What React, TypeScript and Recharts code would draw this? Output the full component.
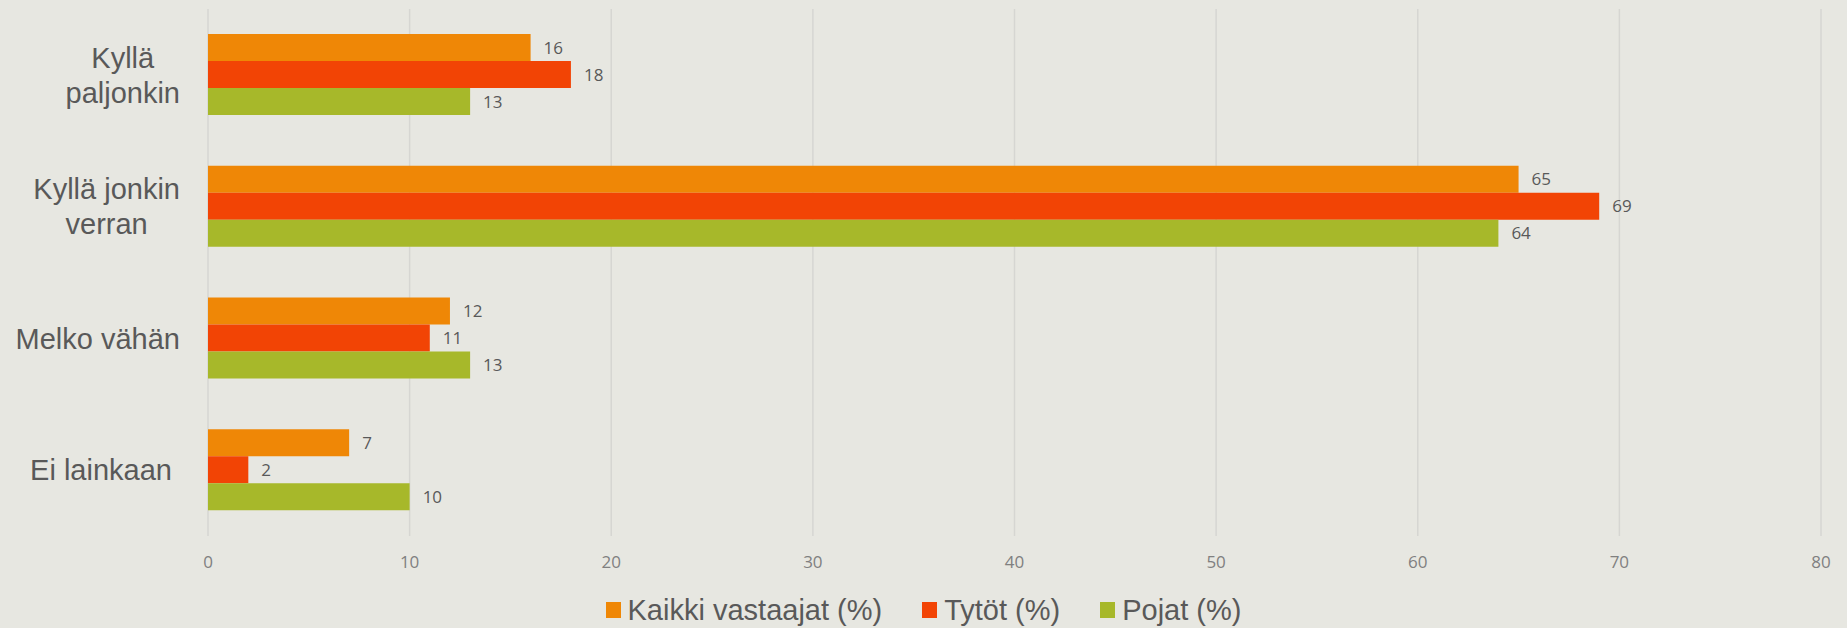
import { BarChart, Bar, XAxis, YAxis, CartesianGrid, Legend, LabelList } from 'recharts';

const categories = ['Kyllä\npaljonkin', 'Kyllä jonkin\nverran', 'Melko vähän', 'Ei lainkaan '];
const kaikki = [16, 65, 12, 7];
const tytot = [18, 69, 11, 2];
const pojat = [13, 64, 13, 10];
const xTicks = [0, 10, 20, 30, 40, 50, 60, 70, 80];

const series = [
  { key: 'kaikki', name: 'Kaikki vastaajat (%)', color: '#EF8706' },
  { key: 'tytot', name: 'Tytöt (%)', color: '#F24405' },
  { key: 'pojat', name: 'Pojat (%)', color: '#A7B82A' },
];

const data = categories.map((name, i) => ({
  name,
  kaikki: kaikki[i],
  tytot: tytot[i],
  pojat: pojat[i],
}));

const labelFont = '"Liberation Sans", Arial, sans-serif';

function textWidth(s: string, font: string) {
  const ctx = document.createElement('canvas').getContext('2d');
  if (!ctx) return s.length * 14;
  ctx.font = font;
  return ctx.measureText(s).width;
}

// multi-line category labels: lines centred on each other, block right-aligned
function CategoryTick(props: any) {
  const { x, y, payload } = props;
  const lines: string[] = String(payload.value).split('\n');
  const maxW = Math.max(...lines.map((l) => textWidth(l, `29px ${labelFont}`)));
  const cx = x - maxW / 2;
  return (
    <g>
      {lines.map((l, i) => (
        <text
          key={i}
          x={cx}
          y={y + (i - (lines.length - 1) / 2) * 35}
          dy="0.35em"
          textAnchor="middle"
          fill="#595959"
          fontSize={29}
          fontFamily={labelFont}
          style={{ whiteSpace: 'pre' }}
        >
          {l}
        </text>
      ))}
    </g>
  );
}

function LegendContent() {
  return (
    <div style={{ display: 'flex', justifyContent: 'center', alignItems: 'center', height: 36, gap: 40 }}>
      {series.map((s) => (
        <div key={s.key} style={{ display: 'flex', alignItems: 'center', gap: 7 }}>
          <span style={{ width: 15, height: 16, background: s.color, display: 'inline-block' }} />
          <span style={{ fontFamily: labelFont, fontSize: 29, color: '#595959', lineHeight: '36px' }}>{s.name}</span>
        </div>
      ))}
    </div>
  );
}

export default function App() {
  return (
    <div style={{ position: 'absolute', left: 0, top: 0, width: 1847, height: 628, background: '#E7E7E1' }}>
      <BarChart
        width={1847}
        height={628}
        data={data}
        layout="vertical"
        margin={{ top: 9, right: 26, left: 0, bottom: 0 }}
        barCategoryGap={25}
        barGap={0}
      >
        <CartesianGrid horizontal={false} stroke="#D6D6D2" strokeWidth={1.5} />
        <XAxis
          type="number"
          domain={[0, 80]}
          ticks={xTicks}
          axisLine={false}
          tickLine={false}
          tickSize={0}
          tickMargin={20}
          height={56}
          tick={{ fill: '#808080', fontSize: 17, fontFamily: '"Open Sans", sans-serif' }}
        />
        <YAxis
          type="category"
          dataKey="name"
          width={208}
          axisLine={false}
          tickLine={false}
          tickSize={0}
          tickMargin={28}
          tick={<CategoryTick />}
        />
        <Legend
          verticalAlign="bottom"
          content={<LegendContent />}
          wrapperStyle={{ left: 0, width: 1847 }}
        />
        {series.map((s) => (
          <Bar key={s.key} dataKey={s.key} name={s.name} fill={s.color} isAnimationActive={false}>
            <LabelList
              dataKey={s.key}
              position="right"
              offset={13}
              fill="#595959"
              fontSize={17}
              fontFamily='"Open Sans", sans-serif'
            />
          </Bar>
        ))}
      </BarChart>
    </div>
  );
}
